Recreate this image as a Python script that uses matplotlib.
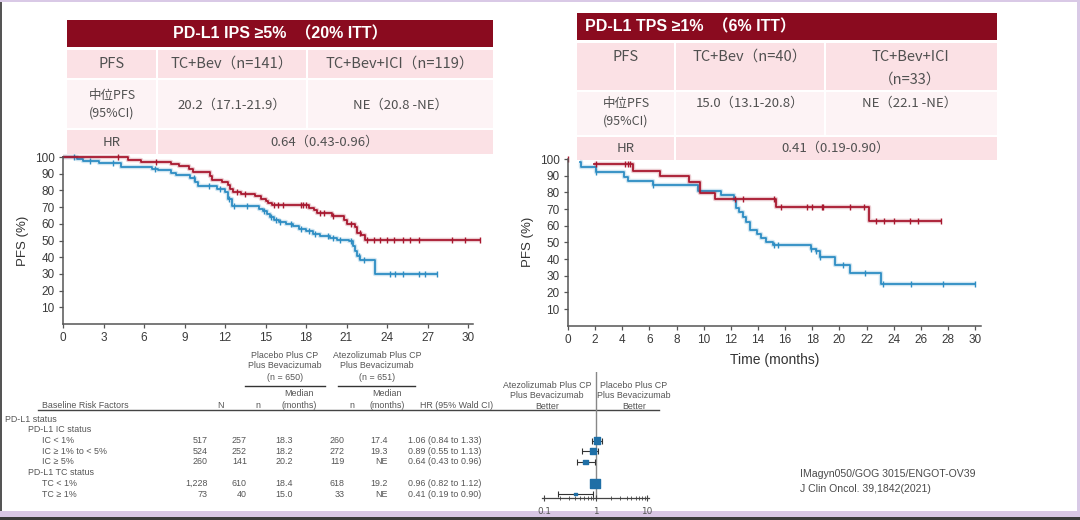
import matplotlib
matplotlib.use("Agg")
import matplotlib.pyplot as plt
from matplotlib.patches import Rectangle
import numpy as np

## ---------------- data ----------------
## KM gauche : PD-L1 IC >= 5% (step post, valeurs en %)
ips_ici_t = [0, 4.8, 5.8, 8.0, 8.6, 9.3, 9.6, 10.9, 11.0, 11.8, 12.2, 12.4, 12.6, 13.2, 14.2, 14.7,
             15.0, 15.2, 15.5, 17.9, 18.2, 18.6, 18.8, 19.9, 20.8, 21.0, 21.6, 21.8, 22.1, 22.4]
ips_ici_s = [100, 98.5, 97.2, 96.0, 94.8, 93.0, 90.8, 88.5, 86.5, 85.0, 83.5, 81.0, 79.0, 78.0, 76.5, 75.0,
             73.8, 72.5, 71.5, 71.0, 69.5, 68.0, 66.5, 64.5, 62.5, 60.0, 58.0, 54.5, 53.0, 50.5]
ips_ici_end = 30.9
ips_ici_cens = [4.1, 6.9, 12.9, 13.5, 15.6, 15.9, 16.3, 17.6, 17.8, 18.0, 19.0, 19.3, 20.0, 21.3, 22.0,
                22.5, 23.0, 23.5, 24.0, 24.5, 25.2, 25.7, 26.4, 28.8, 29.8, 30.9]

ips_bev_t = [0, 1.0, 1.5, 2.7, 4.3, 6.6, 7.0, 8.0, 8.4, 9.4, 9.8, 10.0, 11.4, 12.0, 12.2, 12.5, 14.5,
             14.8, 15.1, 15.3, 15.6, 16.0, 16.5, 17.0, 17.5, 18.0, 18.5, 19.0, 19.8, 20.3, 21.2, 21.5,
             21.6, 21.8, 22.0, 23.1]
ips_bev_s = [100, 98.8, 97.5, 96.5, 94.3, 93.0, 92.0, 90.5, 89.0, 87.5, 85.0, 82.5, 80.8, 79.0, 75.0, 70.5,
             69.0, 67.8, 66.0, 64.0, 62.5, 61.2, 60.0, 58.5, 57.0, 55.5, 54.0, 52.5, 51.5, 50.4, 50.0,
             47.0, 44.0, 41.0, 38.5, 30.0]
ips_bev_end = 27.7
ips_bev_cens = [0.8, 2.0, 3.7, 6.8, 9.7, 10.8, 11.6, 12.3, 12.7, 13.6, 14.9, 15.4, 15.8, 16.1, 16.9, 17.6,
                18.2, 18.7, 19.6, 20.0, 20.5, 21.3, 21.9, 22.3, 24.2, 24.6, 25.2, 26.4, 26.8, 27.7]

## KM droite : PD-L1 TC >= 1%
tps_ici_t = [1.9, 4.8, 6.8, 8.9, 9.7, 10.8, 15.3, 22.2]
tps_ici_s = [97, 93, 89.8, 86, 79.4, 75.8, 71.4, 62.8]
tps_ici_end = 27.5
tps_ici_cens = [0, 2.1, 4.2, 4.4, 4.6, 12.3, 12.9, 15.2, 15.7, 17.6, 18.0, 18.7, 18.8, 20.8, 21.8,
                22.7, 23.3, 24.0, 25.2, 25.8, 27.5]

tps_bev_t = [0.85, 0.95, 2.1, 4.1, 4.4, 6.3, 9.6, 11.3, 12.2, 12.4, 12.6, 12.9, 13.1, 13.4, 13.9,
             14.2, 14.6, 15.1, 17.9, 18.3, 18.6, 19.7, 20.8, 23.1]
tps_bev_s = [98, 95, 92, 89.4, 86.8, 84.2, 81.0, 78.2, 75.4, 70.4, 68.4, 65.4, 62.4, 57.4, 55.0,
             52.4, 50.4, 48.6, 46.0, 44.6, 41.4, 36.4, 31.4, 25.0]
tps_bev_end = 30.0
tps_bev_cens = [2.1, 6.3, 15.2, 15.5, 17.9, 18.3, 18.6, 20.3, 21.9, 23.2, 25.3, 27.6, 30.0]

## forest plot
forest_labels = ["PD-L1 status", "PD-L1 IC status", "IC < 1%", "IC \u2265 1% to < 5%", "IC \u2265 5%",
                 "PD-L1 TC status", "TC < 1%", "TC \u2265 1%"]
forest_level = [0, 1, 2, 2, 2, 1, 2, 2]
forest_N = ["", "", "517", "524", "260", "", "1,228", "73"]
forest_n1 = ["", "", "257", "252", "141", "", "610", "40"]
forest_med1 = ["", "", "18.3", "18.2", "20.2", "", "18.4", "15.0"]
forest_n2 = ["", "", "260", "272", "119", "", "618", "33"]
forest_med2 = ["", "", "17.4", "19.3", "NE", "", "19.2", "NE"]
hr = [np.nan, np.nan, 1.06, 0.89, 0.64, np.nan, 0.96, 0.41]
hr_lo = [np.nan, np.nan, 0.84, 0.55, 0.43, np.nan, 0.82, 0.19]
hr_hi = [np.nan, np.nan, 1.33, 1.13, 0.96, np.nan, 1.12, 0.90]
hr_size = [0, 0, 517, 524, 260, 0, 1228, 73]

## ---------------- style ----------------
RED = "#A8182F"
BLUE = "#2D8DC3"
DARKRED = "#8A0B1F"
PINK = "#FBE1E5"
LIGHT = "#FDF3F5"
TXT = "#505050"
CJK = ["Noto Sans CJK SC", "DejaVu Sans"]
TITLE_F = ["Liberation Sans", "Noto Sans CJK SC", "DejaVu Sans"]
SANS = ["Liberation Sans", "DejaVu Sans"]
W, H = 1080, 520

fig = plt.figure(figsize=(W / 100, H / 100), dpi=100)
fig.patch.set_facecolor("white")

bg = fig.add_axes([0, 0, 1, 1])
bg.set_xlim(0, W)
bg.set_ylim(H, 0)
bg.axis("off")


def px_axes(x0, y0, x1, y1):
    ## axes positionné en pixels (y vers le bas)
    return fig.add_axes([x0 / W, (H - y1) / H, (x1 - x0) / W, (y1 - y0) / H])


def cell(x0, y0, x1, y1, color):
    bg.add_patch(Rectangle((x0, y0), x1 - x0, y1 - y0, color=color, lw=0))


def ttext(x, y, s, size=10.5, color=TXT, weight="normal", ha="center", family=CJK):
    bg.text(x, y, s, fontsize=size, color=color, fontweight=weight, ha=ha, va="center", family=family)


## cadre de la diapo
bg.add_patch(Rectangle((0, 0), 2, H, color="#555555", lw=0))
bg.add_patch(Rectangle((0, 511), W, 6, color="#D8C6E4", lw=0))
bg.add_patch(Rectangle((0, 517), W, 3, color="#3a3a3a", lw=0))
bg.add_patch(Rectangle((1077, 0), 3, 511, color="#D9C9E6", lw=0))
bg.add_patch(Rectangle((0, 0), W, 1.5, color="#D9C9E6", lw=0))

## ---------------- tableau gauche ----------------
cell(67, 20, 493, 47, DARKRED)
ttext(280, 33.5, "PD-L1 IPS \u22655%  （20% ITT）", size=11.5, color="white", weight="bold", family=TITLE_F)
for (a, b) in [(67, 156), (158, 306), (308, 493)]:
    cell(a, 50, b, 78, PINK)
    cell(a, 80, b, 128, LIGHT)
cell(67, 130, 156, 154, PINK)
cell(158, 130, 493, 154, PINK)
ttext(112, 64, "PFS")
ttext(232, 64, "TC+Bev（n=141）")
ttext(400, 64, "TC+Bev+ICI（n=119）")
ttext(112, 96, "中位PFS", size=9)
ttext(112, 113, "(95%CI)", size=9)
ttext(232, 105, "20.2（17.1-21.9）", size=9.5)
ttext(400, 105, "NE（20.8 -NE）", size=9.5)
ttext(112, 142, "HR", size=9.5)
ttext(325, 142, "0.64（0.43-0.96）", size=9.5)

## ---------------- tableau droite ----------------
cell(577, 13, 997, 40, DARKRED)
ttext(585, 27, "PD-L1 TPS \u22651%  （6% ITT）", size=11.5, color="white", weight="bold", ha="left",
      family=TITLE_F)
for (a, b) in [(577, 674), (676, 824), (826, 997)]:
    cell(a, 43, b, 90, PINK)
    cell(a, 92, b, 135, LIGHT)
cell(577, 137, 674, 160, PINK)
cell(676, 137, 997, 160, PINK)
ttext(626, 57, "PFS")
ttext(750, 57, "TC+Bev（n=40）")
ttext(910, 57, "TC+Bev+ICI")
ttext(910, 80, "（n=33）")
ttext(626, 103, "中位PFS", size=9)
ttext(626, 121, "(95%CI)", size=9)
ttext(750, 103, "15.0（13.1-20.8）", size=9.5)
ttext(910, 103, "NE（22.1 -NE）", size=9.5)
ttext(626, 148, "HR", size=9.5)
ttext(836, 148, "0.41（0.19-0.90）", size=9.5)


## ---------------- courbes KM ----------------
def surv_at(times, surv, t):
    i = np.searchsorted(times, t, side="right") - 1
    return 100.0 if i < 0 else surv[i]


def km(ax, times, surv, end, cens, color):
    xs = list(times) + [end]
    ys = list(surv) + [surv[-1]]
    ax.step(xs, ys, where="post", color=color, lw=3.2, alpha=0.22, clip_on=False, solid_capstyle="butt")
    ax.step(xs, ys, where="post", color=color, lw=1.3, clip_on=False)
    cy = [surv_at(times, surv, c) for c in cens]
    ax.plot(cens, cy, ls="none", marker="|", ms=5, mew=1.0, color=color, clip_on=False)


def style_km(ax, xstep):
    for s in ["top", "right"]:
        ax.spines[s].set_visible(False)
    for s in ["left", "bottom"]:
        ax.spines[s].set_color("#555555")
        ax.spines[s].set_linewidth(1.1)
    ax.set_xlim(0, 30.4)
    ax.set_ylim(0, 100)
    ax.set_xticks(np.arange(0, 31, xstep))
    ax.set_yticks(np.arange(10, 101, 10))
    ax.tick_params(length=3, width=0.9, color="#555555", labelsize=8.5, labelcolor="#3a3a3a", pad=3)
    for lab in ax.get_xticklabels() + ax.get_yticklabels():
        lab.set_family(SANS)
    ax.set_ylabel("PFS (%)", fontsize=9.5, color="#333333", family=SANS, labelpad=4)
    ax.patch.set_alpha(0)


ax1 = px_axes(63, 157, 63 + 30.4 * 13.5, 324)
km(ax1, ips_bev_t, ips_bev_s, ips_bev_end, ips_bev_cens, BLUE)
km(ax1, ips_ici_t, ips_ici_s, ips_ici_end, ips_ici_cens, RED)
style_km(ax1, 3)

ax2 = px_axes(568, 159, 568 + 30.4 * 13.57, 325.7)
km(ax2, tps_bev_t, tps_bev_s, tps_bev_end, tps_bev_cens, BLUE)
km(ax2, tps_ici_t, tps_ici_s, tps_ici_end, tps_ici_cens, RED)
style_km(ax2, 2)
ax2.set_xlabel("Time (months)", fontsize=10, color="#333333", family=SANS, labelpad=5)

## ---------------- tableau forest ----------------
FS = 6.4
FC = "#555555"


def ftext(x, y, s, ha="center"):
    bg.text(x, y, s, fontsize=FS, color=FC, ha=ha, va="center", family=SANS)


for i, s in enumerate(["Placebo Plus CP", "Plus Bevacizumab", "(n = 650)"]):
    ftext(285, 355 + 11 * i, s)
for i, s in enumerate(["Atezolizumab Plus CP", "Plus Bevacizumab", "(n = 651)"]):
    ftext(377, 355 + 11 * i, s)
bg.plot([245, 325], [386, 386], color="#333333", lw=1.0)
bg.plot([338, 415], [386, 386], color="#333333", lw=1.0)
ftext(299, 394, "Median")
ftext(299, 405, "(months)")
ftext(387, 394, "Median")
ftext(387, 405, "(months)")
ftext(42, 406, "Baseline Risk Factors", ha="left")
ftext(220, 406, "N")
ftext(258, 406, "n")
ftext(352, 406, "n")
ftext(457, 406, "HR (95% Wald CI)")
for i, s in enumerate(["Atezolizumab Plus CP", "Plus Bevacizumab", "Better"]):
    ftext(547, 385 + 10.7 * i, s)
for i, s in enumerate(["Placebo Plus CP", "Plus Bevacizumab", "Better"]):
    ftext(634, 385 + 10.7 * i, s)
bg.plot([38, 659], [410, 410], color="#444444", lw=1.0)

row_y = [419 + 10.75 * k for k in range(len(forest_labels))]
indent = [5, 28, 42]
for k, y in enumerate(row_y):
    ftext(indent[forest_level[k]], y, forest_labels[k], ha="left")
    ftext(208, y, forest_N[k], ha="right")
    ftext(247, y, forest_n1[k], ha="right")
    ftext(293, y, forest_med1[k], ha="right")
    ftext(345, y, forest_n2[k], ha="right")
    ftext(388, y, forest_med2[k], ha="right")
    if not np.isnan(hr[k]):
        ftext(408, y, "%.2f (%.2f to %.2f)" % (hr[k], hr_lo[k], hr_hi[k]), ha="left")

axf = px_axes(542, 372, 649, 498)
axf.set_xscale("log")
dec = 51.5
axf.set_xlim(0.1 / 10 ** (2 / dec), 10 * 10 ** (2 / dec))
axf.set_ylim(498, 372)
axf.patch.set_alpha(0)
for s in ["top", "right", "left"]:
    axf.spines[s].set_visible(False)
axf.spines["bottom"].set_color("#444444")
axf.spines["bottom"].set_linewidth(0.9)
axf.axvline(1, color="#888888", lw=1.0, zorder=1)
axf.set_yticks([])
axf.set_xticks([0.1, 1, 10])
axf.set_xticklabels(["0.1", "1", "10"])
axf.tick_params(axis="x", which="major", direction="inout", length=5, width=0.8, color="#444444",
                labelsize=FS, labelcolor=FC, pad=4)
axf.tick_params(axis="x", which="minor", direction="inout", length=3, width=0.6, color="#444444")
hr_a = np.array(hr)
axf.errorbar(hr_a, row_y, xerr=[hr_a - np.array(hr_lo), np.array(hr_hi) - hr_a], fmt="none",
             ecolor="#333333", elinewidth=0.8, capsize=2, capthick=0.8, zorder=2)
axf.scatter(hr_a, row_y, s=np.array(hr_size) / 24.0, marker="s", color="#1F6FA6", zorder=3)

## référence
bg.text(800, 474, "IMagyn050/GOG 3015/ENGOT-OV39", fontsize=7.6, color="#4a4a4a", ha="left", va="center",
        family=SANS)
bg.text(800, 489, "J Clin Oncol. 39,1842(2021)", fontsize=7.6, color="#4a4a4a", ha="left", va="center",
        family=SANS)

fig.savefig("out.png", dpi=100)
